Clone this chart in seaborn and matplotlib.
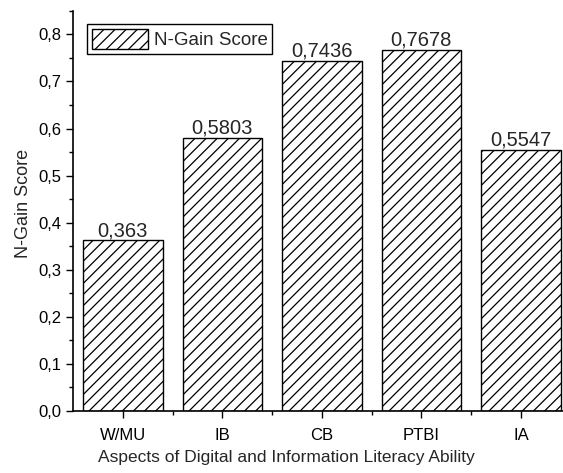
import pandas as pd
import matplotlib
matplotlib.use("Agg")
import matplotlib.pyplot as plt
from matplotlib.ticker import MultipleLocator, FixedLocator, FuncFormatter
import seaborn as sns

sns.set_style("ticks")
plt.rcParams['font.family'] = ['Liberation Sans', 'DejaVu Sans']
plt.rcParams['hatch.linewidth'] = 0.9

aspects = ["W/MU", "IB", "CB", "PTBI", "IA"]
ngain = [0.363, 0.5803, 0.7436, 0.7678, 0.5547]
bar_text = ["0,363", "0,5803", "0,7436", "0,7678", "0,5547"]

df = pd.DataFrame({"Aspect": aspects, "NGain": ngain})

fig = plt.figure(figsize=(5.63, 4.73), dpi=100)
ax = fig.add_axes([0.1297, 0.131, 0.884, 0.846])

sns.barplot(data=df, x="Aspect", y="NGain", color="white", edgecolor="black",
            linewidth=1.0, hatch="///", width=0.8, label="N-Gain Score", ax=ax)

ax.bar_label(ax.containers[0], labels=bar_text, fontsize=14.5, padding=0)

ax.set_xlim(-0.5, 4.5)
ax.set_ylim(0, 0.85)
ax.yaxis.set_major_locator(MultipleLocator(0.1))
ax.yaxis.set_minor_locator(MultipleLocator(0.05))
ax.yaxis.set_major_formatter(FuncFormatter(lambda v, p: f"{v:.1f}".replace(".", ",")))
ax.xaxis.set_minor_locator(FixedLocator([0.5, 1.5, 2.5, 3.5]))

ax.tick_params(axis="both", which="major", direction="out", length=5, width=1,
               labelsize=12, color="black", labelcolor="black")
ax.tick_params(axis="x", which="major", pad=7)
ax.tick_params(axis="both", which="minor", direction="out", length=3, width=1, color="black")

for s in ["top", "right"]:
    ax.spines[s].set_visible(False)
for s in ["left", "bottom"]:
    ax.spines[s].set_linewidth(1.2)
    ax.spines[s].set_color("black")

ax.set_xlabel("Aspects of Digital and Information Literacy Ability", fontsize=12.5)
ax.set_ylabel("N-Gain Score", fontsize=13)
ax.xaxis.set_label_coords(0.428, -0.098)
ax.yaxis.set_label_coords(-0.083, 0.52)

leg = ax.legend(loc="upper left", bbox_to_anchor=(0.01, 0.99), fontsize=13.5,
                frameon=True, fancybox=False, edgecolor="black", framealpha=1,
                borderpad=0.25, handlelength=3.0, handleheight=1.3, handletextpad=0.3)
leg.get_frame().set_linewidth(1.0)

fig.savefig("out.png", dpi=100)
